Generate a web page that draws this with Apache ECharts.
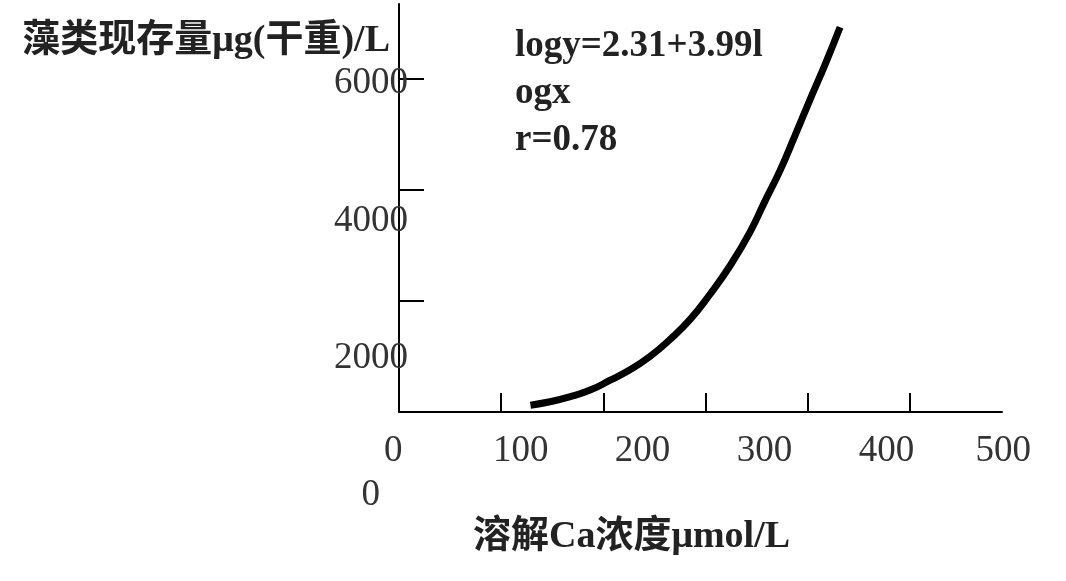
<!DOCTYPE html>
<html><head><meta charset="utf-8">
<script src="https://cdn.jsdelivr.net/npm/echarts@6/dist/echarts.min.js"></script>
<style>html,body{margin:0;padding:0;background:#fff}#c{width:1066px;height:581px}</style>
</head><body><div id="c"></div>
<script>
// Curve: dissolved Ca (μmol/L) vs algae standing crop (μg dry weight / L)
const caConcentration = [108, 124, 140, 157, 173, 190, 206, 222, 239, 255, 272, 288, 300, 313, 325, 337, 350, 362];
const algaeBiomass    = [1270, 1320, 1390, 1490, 1630, 1790, 1980, 2220, 2520, 2880, 3310, 3790, 4230, 4700, 5200, 5710, 6250, 6780];
// Printed tick labels
const xTickLabels = [0, 100, 200, 300, 400, 500];
const yTickLabels = [0, 2000, 4000, 6000];
// Tick marks drawn on the axis lines (the original figure draws them on their own spacing)
const xTickMarks = [100, 200, 300, 400, 500];
const yTickMarks = [2000, 4000, 6000];
const equationLines = ['logy=2.31+3.99l', 'ogx', 'r=0.78'];
const xAxisTitle = '溶解Ca浓度μmol/L';
const yAxisTitle = '藻类现存量μg(干重)/L';

const FONT = "'Liberation Serif', 'Noto Sans CJK SC', serif";
const chart = echarts.init(document.getElementById('c'), null, {renderer: 'canvas'});
const xl = xTickLabels, yl = yTickLabels;
chart.setOption({
  animation: false,
  backgroundColor: '#fff',
  title: {
    text: equationLines.join('\n'),
    left: 515, top: 23, padding: 0,
    textStyle: {fontFamily: FONT, fontWeight: 'bold', fontSize: 37, lineHeight: 47, color: '#222'}
  },
  grid: [
    {left: 399, top: 4, width: 603, height: 408, containLabel: false, outerBoundsMode: 'none'},
    {left: 398.8, top: 12.1, width: 609.5, height: 480.2, containLabel: false, outerBoundsMode: 'none'}
  ],
  xAxis: [
    {
      gridIndex: 0, type: 'value', min: 0, max: 590,
      axisLine: {show: true, onZero: false, lineStyle: {color: '#000', width: 2}},
      axisTick: {show: true, inside: true, length: 19, customValues: xTickMarks, lineStyle: {color: '#000', width: 2}},
      axisLabel: {show: false}, splitLine: {show: false},
      name: xAxisTitle, nameLocation: 'middle', nameGap: 125,
      nameTextStyle: {fontFamily: FONT, fontWeight: 'bold', fontSize: 38, color: '#222',
        verticalAlign: 'middle', align: 'center', padding: [0, 138, 0, 0]}
    },
    {
      gridIndex: 1, type: 'value', min: xl[0], max: xl[xl.length - 1], interval: xl[1] - xl[0],
      axisLine: {show: false}, axisTick: {show: false}, splitLine: {show: false},
      axisLabel: {
        show: true, margin: -40.8, verticalAlign: 'middle', fontFamily: FONT, fontSize: 37, color: '#333',
        formatter: v => v === 0 ? '{z|0}' : (v === 500 ? '{e|500}' : String(v)),
        rich: {
          z: {fontFamily: FONT, fontSize: 37, color: '#333', padding: [0, 11, 0, 0]},
          e: {fontFamily: FONT, fontSize: 37, color: '#333', padding: [0, 10, 0, 0]}
        }
      }
    }
  ],
  yAxis: [
    {
      gridIndex: 0, type: 'value', min: 0, max: 7351,
      axisLine: {show: true, onZero: false, lineStyle: {color: '#000', width: 2}},
      axisTick: {show: true, inside: true, length: 25, customValues: yTickMarks, lineStyle: {color: '#000', width: 2}},
      axisLabel: {show: false}, splitLine: {show: false},
      name: yAxisTitle, nameLocation: 'end', nameGap: -37,
      nameTextStyle: {fontFamily: FONT, fontWeight: 'bold', fontSize: 38, color: '#222',
        align: 'right', verticalAlign: 'middle', padding: [0, 9, 0, 0]}
    },
    {
      gridIndex: 1, type: 'value', min: yl[0], max: 7000, interval: yl[1] - yl[0],
      axisLine: {show: false}, axisTick: {show: false}, splitLine: {show: false},
      axisLabel: {
        show: true, margin: -9.2, fontFamily: FONT, fontSize: 37, color: '#333',
        formatter: v => (yl.indexOf(v) < 0) ? '' : (v === 0 ? '{z|0}' : '{n|' + v + '}'),
        rich: {
          n: {fontFamily: FONT, fontSize: 37, color: '#333', padding: [6, 0, 0, 0]},
          z: {fontFamily: FONT, fontSize: 37, color: '#333', padding: [6, 28, 0, 0]}
        }
      }
    }
  ],
  series: [{
    type: 'line', xAxisIndex: 1, yAxisIndex: 1, smooth: true, showSymbol: false, clip: false,
    data: caConcentration.map((x, i) => [x, algaeBiomass[i]]),
    lineStyle: {color: '#000', width: 7, cap: 'butt'}
  }]
});
</script></body></html>
